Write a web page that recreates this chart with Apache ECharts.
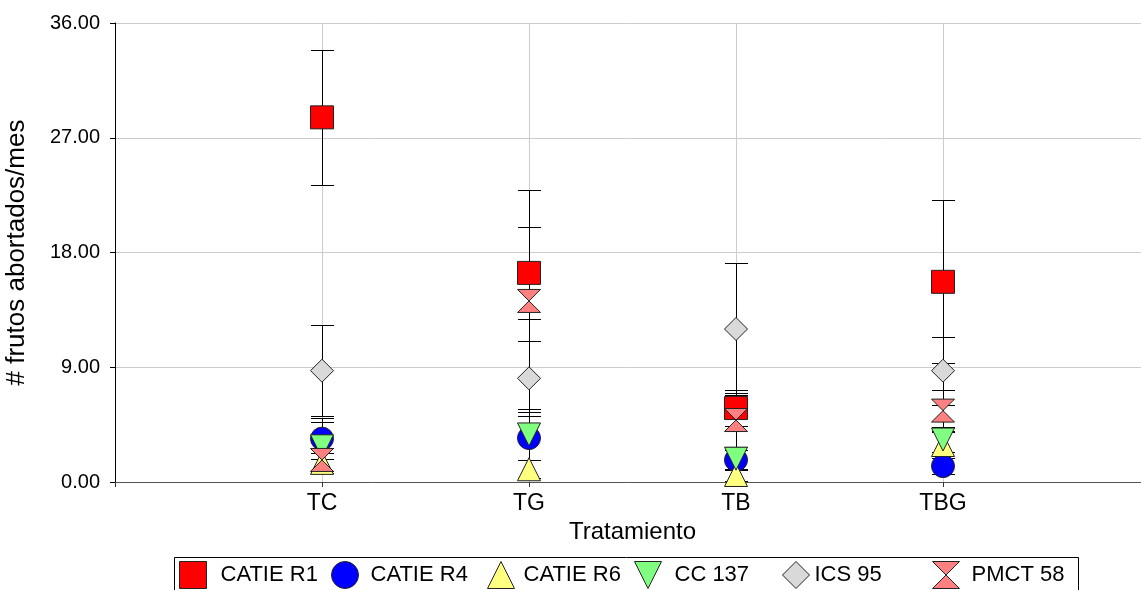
<!DOCTYPE html>
<html>
<head>
<meta charset="utf-8">
<script src="https://cdn.jsdelivr.net/npm/echarts@6/dist/echarts.min.js"></script>
<style>
  html, body { margin: 0; padding: 0; background: #fff; overflow: hidden; }
  #chart { width: 1141px; height: 590px; }
</style>
</head>
<body>
<div id="chart"></div>
<script>
// Treatments on the horizontal axis (placed at x = 1..4)
const categories = ['TC', 'TG', 'TB', 'TBG'];
const yTicks = [0, 9, 18, 27, 36];

// Mean aborted fruits per month and the half-width of each error bar
const catieR1Mean = [28.6, 16.4, 5.8, 15.7];
const catieR1Err  = [5.3, 3.6, 1.4, 6.4];
const catieR4Mean = [3.4, 3.45, 1.73, 1.25];
const catieR4Err  = [1.6, 1.7, 0.8, 0.62];
const catieR6Mean = [1.5, 1.0, 0.55, 2.9];
const catieR6Err  = [0.8, 0.7, 0.5, 1.0];
const cc137Mean   = [2.8, 3.73, 1.83, 3.33];
const cc137Err    = [1.9, 2.0, 0.9, 1.0];
const ics95Mean   = [8.73, 8.13, 12.0, 8.73];
const ics95Err    = [3.55, 2.95, 5.2, 2.67];
const pmct58Mean  = [1.73, 14.2, 4.86, 5.6];
const pmct58Err   = [0.9, 8.7, 2.1, 1.6];

const FONT = 'Arial, "Liberation Sans", sans-serif';
const hourglass = 'path://M0,0 L10,0 L5,5 L10,10 L0,10 L5,5 Z';
const downTriangle = 'path://M0,0 L10,0 L5,10 Z';

const groups = [
  { name: 'CATIE R1', mean: catieR1Mean, err: catieR1Err, symbol: 'rect', color: '#ff0000',
    legend: { left: 179, pad: 9 } },
  { name: 'CATIE R4', mean: catieR4Mean, err: catieR4Err, symbol: 'circle', color: '#0000ff',
    legend: { left: 331, pad: 7 } },
  { name: 'CATIE R6', mean: catieR6Mean, err: catieR6Err, symbol: 'triangle', color: '#ffff80',
    legend: { left: 487, pad: 4 } },
  { name: 'CC 137', mean: cc137Mean, err: cc137Err, symbol: downTriangle, color: '#80ff80',
    legend: { left: 634, pad: 8 } },
  { name: 'ICS 95', mean: ics95Mean, err: ics95Err, symbol: 'diamond', color: '#d9d9d9',
    legend: { left: 782, pad: 0 } },
  { name: 'PMCT 58', mean: pmct58Mean, err: pmct58Err, symbol: hourglass, color: '#ff8080',
    legend: { left: 932, pad: 7 } }
];

// Vertical error bar with caps, drawn from [x, low, high]
function renderErrorBar(params, api) {
  const x = api.value(0);
  const lo = api.coord([x, api.value(1)]);
  const hi = api.coord([x, api.value(2)]);
  const cx = Math.round(lo[0]) + 0.5;
  const yLo = Math.round(lo[1]) + 0.5;
  const yHi = Math.round(hi[1]) + 0.5;
  const half = 11.5;
  const style = { stroke: '#000', lineWidth: 1 };
  return {
    type: 'group',
    children: [
      { type: 'line', shape: { x1: cx, y1: yHi, x2: cx, y2: yLo }, style },
      { type: 'line', shape: { x1: cx - half, y1: yHi, x2: cx + half, y2: yHi }, style },
      { type: 'line', shape: { x1: cx - half, y1: yLo, x2: cx + half, y2: yLo }, style }
    ]
  };
}

const series = [];
groups.forEach(g => {
  series.push({
    name: g.name + ' (error)',
    type: 'custom',
    renderItem: renderErrorBar,
    data: g.mean.map((m, i) => [i + 1, m - g.err[i], m + g.err[i]]),
    silent: true
  });
  series.push({
    name: g.name,
    type: 'scatter',
    symbol: g.symbol,
    symbolSize: [23, 23],
    itemStyle: { color: g.color, borderColor: '#222', borderWidth: 1, opacity: 1 },
    data: g.mean.map((m, i) => [i + 1, m]),
    emphasis: { disabled: true }
  });
});

// One legend block per series so each entry sits at its own place in the box
const legends = groups.map(g => ({
  data: [g.name],
  left: g.legend.left,
  top: 561,
  padding: 0,
  itemWidth: 27,
  itemHeight: 27,
  selectedMode: false,
  itemStyle: { borderColor: '#222', borderWidth: 1 },
  textStyle: { fontSize: 22, color: '#000', fontFamily: FONT, padding: [0, 0, 0, g.legend.pad] }
}));

const chart = echarts.init(document.getElementById('chart'), null, { renderer: 'canvas' });
chart.setOption({
  animation: false,
  backgroundColor: '#fff',
  // The plot area runs a little past the right edge of the canvas
  grid: { left: 115, top: 23, width: 1035, height: 459, containLabel: false, outerBoundsMode: 'none' },
  xAxis: {
    type: 'value',
    min: 0,
    max: 5,
    interval: 1,
    name: 'Tratamiento',
    nameLocation: 'middle',
    nameGap: 34,
    nameTextStyle: { fontSize: 24, color: '#000', fontFamily: FONT },
    axisLine: { lineStyle: { color: '#555', width: 1 } },
    axisTick: { show: true, length: 5, lineStyle: { color: '#333' } },
    axisLabel: {
      fontSize: 23, color: '#000', fontFamily: FONT, margin: 10,
      formatter: v => categories[v - 1] || ''
    },
    splitLine: {
      show: true, showMinLine: false,
      lineStyle: { color: '#cccccc', width: 1 }
    }
  },
  yAxis: {
    type: 'value',
    min: yTicks[0],
    max: yTicks[yTicks.length - 1],
    interval: yTicks[1] - yTicks[0],
    name: '# frutos abortados/mes',
    nameLocation: 'middle',
    nameGap: 85,
    nameTextStyle: { fontSize: 26, color: '#000', fontFamily: FONT },
    axisLine: { show: true, lineStyle: { color: '#000', width: 1 } },
    axisTick: { show: true, length: 5, lineStyle: { color: '#000' } },
    axisLabel: {
      fontSize: 20, color: '#000', fontFamily: FONT, margin: 15,
      formatter: v => v.toFixed(2)
    },
    splitLine: { show: true, lineStyle: { color: '#cccccc', width: 1 } }
  },
  legend: legends,
  graphic: [{
    type: 'rect',
    shape: { x: 174.5, y: 557.5, width: 904, height: 50 },
    style: { fill: 'none', stroke: '#000', lineWidth: 1 },
    silent: true
  }],
  series
});
</script>
</body>
</html>
